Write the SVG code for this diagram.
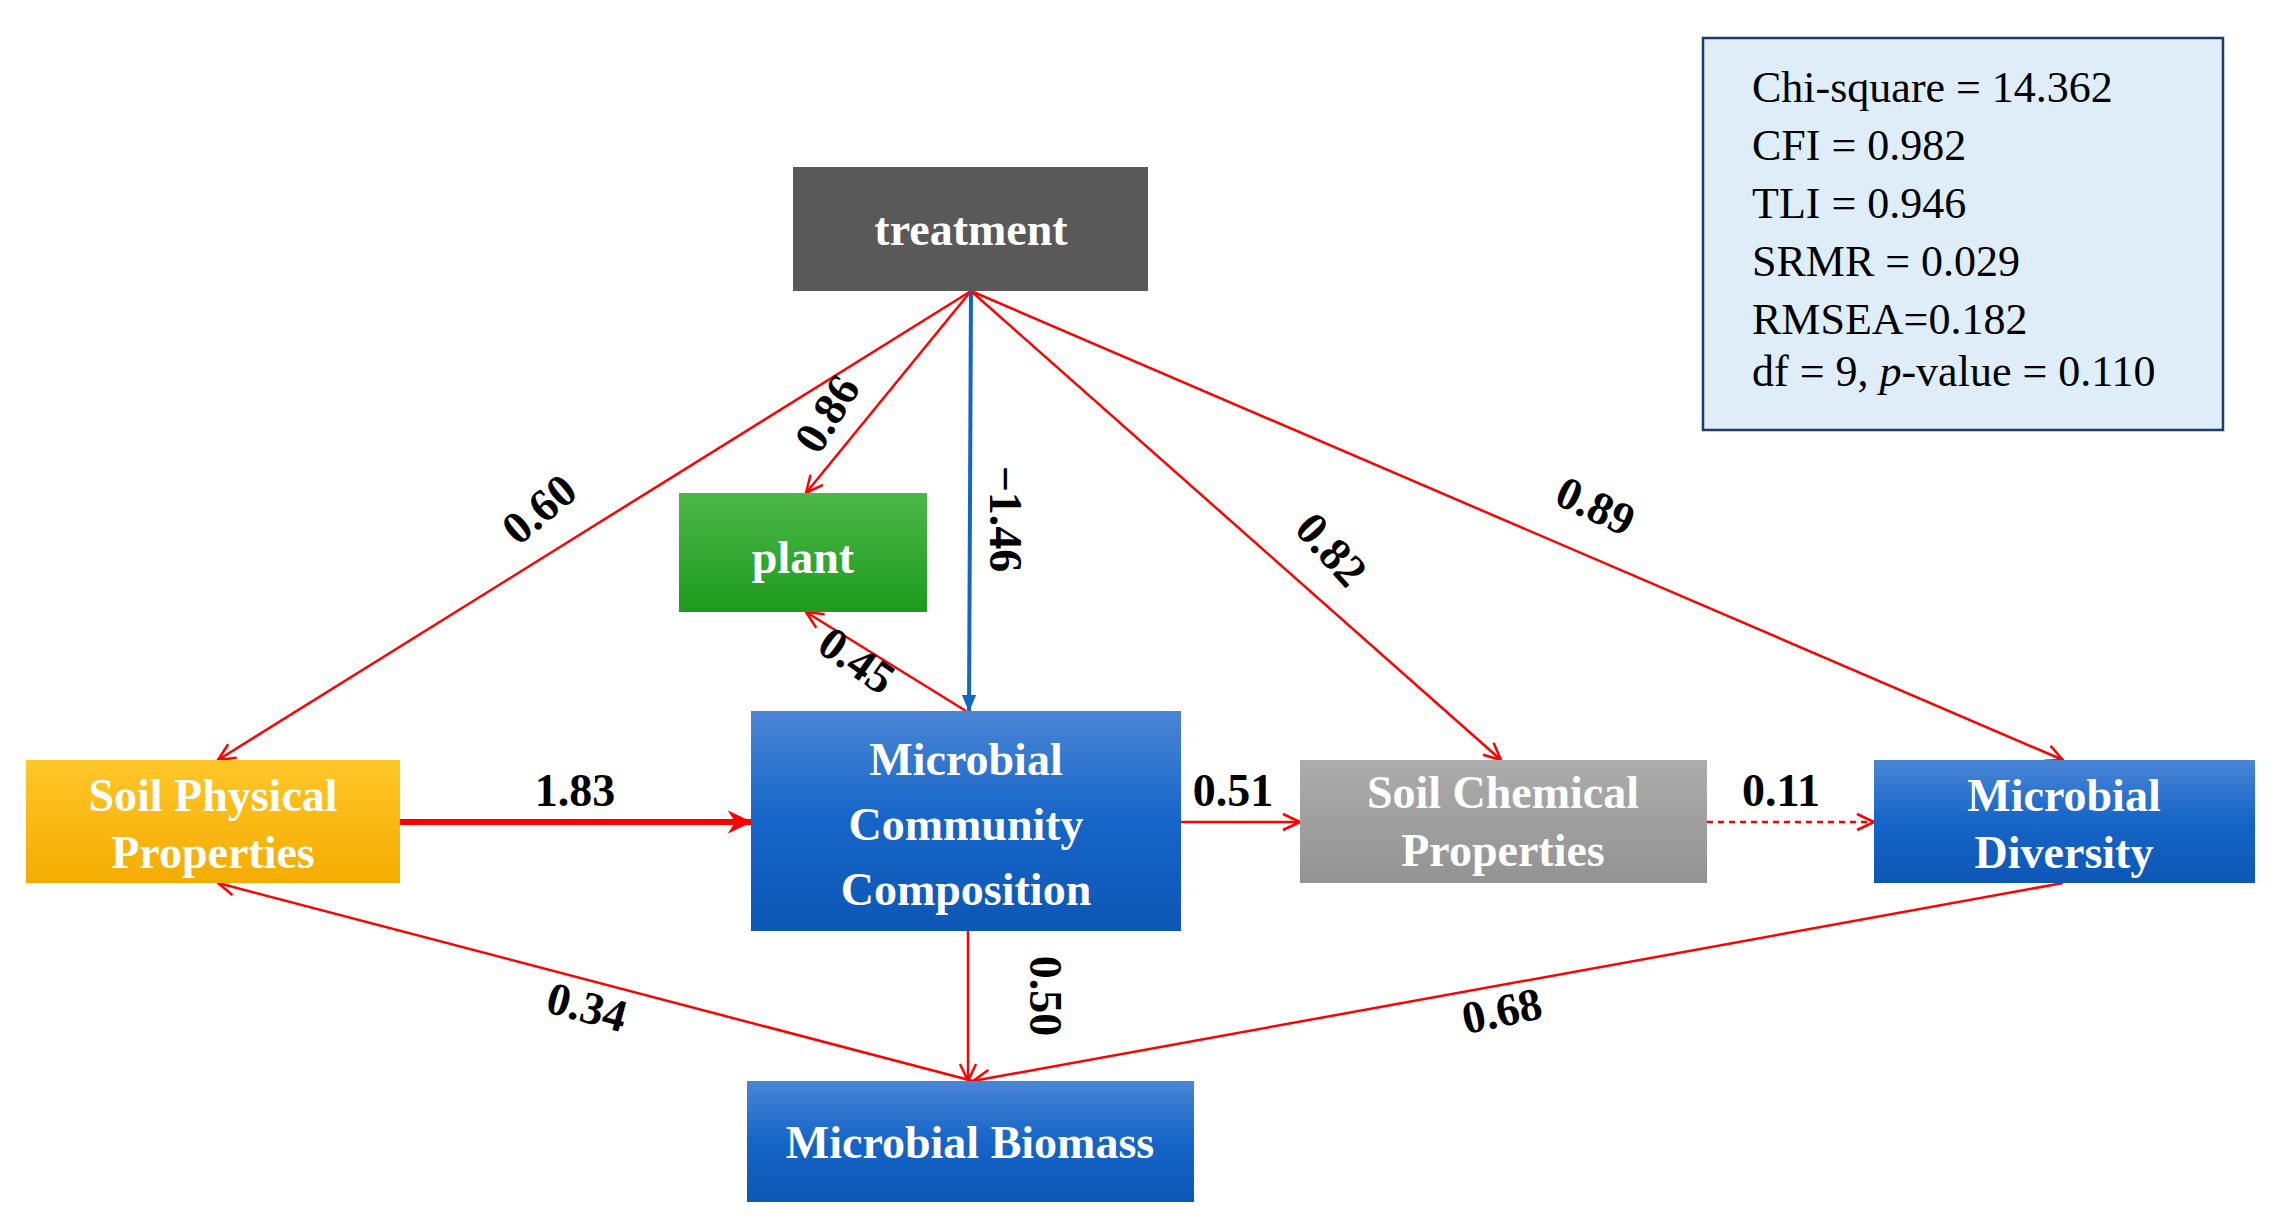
<svg xmlns="http://www.w3.org/2000/svg" width="2278" height="1227" viewBox="0 0 2278 1227">
<style>
.nt{font-family:"Liberation Serif",serif;font-weight:bold;font-size:46px;fill:#fff;text-anchor:middle}
.lb{font-family:"Liberation Serif",serif;font-weight:bold;font-size:46px;fill:#000;text-anchor:middle}
.st{font-family:"Liberation Serif",serif;font-size:44px;fill:#000}
.r{stroke:#f00;stroke-width:2.5;fill:none}
</style>
<defs>
<linearGradient id="gb" x1="0" y1="0" x2="0" y2="1"><stop offset="0" stop-color="#4a86d6"/><stop offset="0.5" stop-color="#1565c8"/><stop offset="1" stop-color="#0d57b5"/></linearGradient>
<linearGradient id="gy" x1="0" y1="0" x2="0" y2="1"><stop offset="0" stop-color="#ffc629"/><stop offset="1" stop-color="#f4ac00"/></linearGradient>
<linearGradient id="gg" x1="0" y1="0" x2="0" y2="1"><stop offset="0" stop-color="#4cb848"/><stop offset="1" stop-color="#1e9a1e"/></linearGradient>
<linearGradient id="gr" x1="0" y1="0" x2="0" y2="1"><stop offset="0" stop-color="#acacac"/><stop offset="1" stop-color="#939393"/></linearGradient>
<marker id="ar" viewBox="0 0 20 20" refX="19" refY="10" markerWidth="20" markerHeight="20" markerUnits="userSpaceOnUse" orient="auto"><path d="M2,2 L19,10 L2,18" fill="none" stroke="#f00" stroke-width="2.5"/></marker>
<marker id="ab" viewBox="0 0 20 20" refX="18" refY="10" markerWidth="18" markerHeight="18" markerUnits="userSpaceOnUse" orient="auto"><path d="M0,2 L19,10 L0,18 Z" fill="#1266c4"/></marker>
<marker id="at" viewBox="0 0 20 20" refX="18" refY="10" markerWidth="26" markerHeight="26" markerUnits="userSpaceOnUse" orient="auto"><path d="M0,1 L19,10 L0,19 L6,10 Z" fill="#f00"/></marker>
</defs>
<rect width="2278" height="1227" fill="#fff"/>
<g id="stats">
<rect x="1703" y="38" width="520" height="392" fill="#deedf8" stroke="#1f3b66" stroke-width="2.5"/>
<text class="st" x="1752" y="102">Chi-square = 14.362</text>
<text class="st" x="1752" y="160">CFI = 0.982</text>
<text class="st" x="1752" y="218">TLI = 0.946</text>
<text class="st" x="1752" y="276">SRMR = 0.029</text>
<text class="st" x="1752" y="334">RMSEA=0.182</text>
<text class="st" x="1752" y="386">df = 9, <tspan font-style="italic">p</tspan>-value = 0.110</text>
</g>
<g id="connectors">
<line class="r" x1="971" y1="291" x2="218" y2="760" marker-end="url(#ar)"/>
<line class="r" x1="971" y1="291" x2="806" y2="493" stroke-width="3.5" marker-end="url(#ar)"/>
<line x1="971" y1="291" x2="969" y2="711" stroke="#1266c4" stroke-width="4" marker-end="url(#ab)"/>
<line class="r" x1="971" y1="291" x2="1501" y2="760" stroke-width="3.5" marker-end="url(#ar)"/>
<line class="r" x1="971" y1="291" x2="2063" y2="760" stroke-width="3.5" marker-end="url(#ar)"/>
<line class="r" x1="966" y1="711" x2="806" y2="612" marker-end="url(#ar)"/>
<line x1="400" y1="822" x2="751" y2="822" stroke="#f00" stroke-width="6" marker-end="url(#at)"/>
<line class="r" x1="1181" y1="822" x2="1300" y2="822" marker-end="url(#ar)"/>
<line class="r" x1="1707" y1="822" x2="1874" y2="822" stroke-dasharray="6,5" marker-end="url(#ar)"/>
<line class="r" x1="968" y1="931" x2="968" y2="1081" marker-end="url(#ar)"/>
<line class="r" x1="973" y1="1081" x2="218" y2="883" marker-end="url(#ar)"/>
<line class="r" x1="2063" y1="883" x2="973" y2="1081" marker-end="url(#ar)"/>
<text class="lb" transform="translate(549,521) rotate(-40)">0.60</text>
<text class="lb" transform="translate(840,422) rotate(-58)">0.86</text>
<text class="lb" transform="translate(990,519) rotate(90)">−1.46</text>
<text class="lb" transform="translate(1320,560) rotate(48)">0.82</text>
<text class="lb" transform="translate(1589,520) rotate(25)">0.89</text>
<text class="lb" transform="translate(848,673) rotate(35)">0.45</text>
<text class="lb" x="575" y="806">1.83</text>
<text class="lb" x="1233" y="806">0.51</text>
<text class="lb" x="1781" y="806">0.11</text>
<text class="lb" transform="translate(1030,996) rotate(90)">0.50</text>
<text class="lb" transform="translate(583,1022) rotate(15)">0.34</text>
<text class="lb" transform="translate(1505,1026) rotate(-12)">0.68</text>
</g>
<g id="treatment"><rect x="793" y="167" width="355" height="124" fill="#595959"/><text class="nt" x="971" y="245">treatment</text></g>
<g id="plant"><rect x="679" y="493" width="248" height="119" fill="url(#gg)"/><text class="nt" x="803" y="573" font-size="56">plant</text></g>
<g id="mcc"><rect x="751" y="711" width="430" height="220" fill="url(#gb)"/><text class="nt" x="966" y="775">Microbial</text><text class="nt" x="966" y="840">Community</text><text class="nt" x="966" y="905">Composition</text></g>
<g id="spp"><rect x="26" y="760" width="374" height="123" fill="url(#gy)"/><text class="nt" x="213" y="811" font-size="42">Soil Physical</text><text class="nt" x="213" y="868" font-size="42">Properties</text></g>
<g id="scp"><rect x="1300" y="760" width="407" height="123" fill="url(#gr)"/><text class="nt" x="1503" y="808" font-size="42">Soil Chemical</text><text class="nt" x="1503" y="866" font-size="42">Properties</text></g>
<g id="md"><rect x="1874" y="760" width="381" height="123" fill="url(#gb)"/><text class="nt" x="2064" y="811" font-size="42">Microbial</text><text class="nt" x="2064" y="868" font-size="42">Diversity</text></g>
<g id="mb"><rect x="747" y="1081" width="447" height="121" fill="url(#gb)"/><text class="nt" x="970" y="1158" font-size="42">Microbial Biomass</text></g>
</svg>
